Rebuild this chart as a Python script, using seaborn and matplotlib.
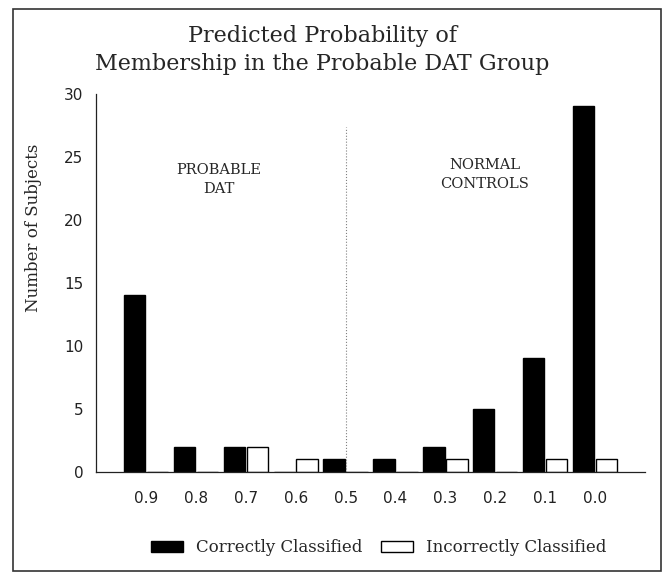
import pandas as pd
import seaborn as sns
import matplotlib.pyplot as plt
from matplotlib.patches import Patch, Rectangle

# values
probs = ["0.9", "0.8", "0.7", "0.6", "0.5", "0.4", "0.3", "0.2", "0.1", "0.0"]
correct = [14, 2, 2, 0, 1, 1, 2, 5, 9, 29]
incorrect = [0, 0, 2, 1, 0, 0, 1, 0, 1, 1]
groups = ["Correctly Classified", "Incorrectly Classified"]

df = pd.DataFrame({
    "prob": probs * 2,
    "count": correct + incorrect,
    "group": [groups[0]] * len(probs) + [groups[1]] * len(probs),
})

sns.set_style("white")
plt.rcParams["font.family"] = ["DejaVu Serif"]

fig = plt.figure(figsize=(6.67, 5.72), dpi=100)
ax = fig.add_axes([0.144, 0.175, 0.823, 0.661])

sns.barplot(data=df, x="prob", y="count", hue="group", order=probs,
            hue_order=groups, palette={groups[0]: "black", groups[1]: "white"},
            edgecolor="black", linewidth=1, width=0.92, gap=0.07,
            legend=False, ax=ax)

ax.set_xlim(-1, 10)
ax.set_ylim(0, 30)
ax.set_yticks(range(0, 31, 5))
ax.set_xticks(range(len(probs)))
ax.set_xticklabels(probs, fontfamily="DejaVu Sans", fontsize=11)
ax.set_xticks([-1, 10], minor=True)
for lab in ax.get_yticklabels():
    lab.set_fontfamily("DejaVu Sans")
    lab.set_fontsize(11)
ax.tick_params(axis="y", direction="in", length=6, width=0.8, pad=9, colors="#222222")
ax.tick_params(axis="x", which="both", direction="out", length=4, width=0.8, pad=10,
               colors="#222222")
ax.set_xlabel("")
ax.set_ylabel("Number of Subjects", fontsize=12)
ax.yaxis.set_label_coords(-0.098, 0.645)
for side in ["top", "right"]:
    ax.spines[side].set_visible(False)
for side in ["left", "bottom"]:
    ax.spines[side].set_color("#222222")
    ax.spines[side].set_linewidth(0.9)

ax.axvline(4, ymin=0, ymax=0.913, color="gray", linestyle=":", linewidth=0.8)
ax.text(1.46, 23.2, "PROBABLE\nDAT", ha="center", va="center", fontsize=10.5,
        linespacing=1.4)
ax.text(6.79, 23.6, "NORMAL\nCONTROLS", ha="center", va="center", fontsize=10.5,
        linespacing=1.4)

fig.text(0.483, 0.913, "Predicted Probability of\nMembership in the Probable DAT Group",
         ha="center", va="center", fontsize=16, linespacing=1.35)

handles = [Patch(facecolor="black", edgecolor="black"),
           Patch(facecolor="white", edgecolor="black")]
fig.legend(handles, groups, loc="center", bbox_to_anchor=(0.568, 0.042), ncol=2,
           frameon=False, fontsize=12, handlelength=1.9, handleheight=0.7,
           handletextpad=0.8, columnspacing=1.15)

fig.patches.append(Rectangle((0.0195, 0.002), 0.971, 0.983, transform=fig.transFigure,
                             fill=False, edgecolor="#333333", linewidth=1.2))

fig.savefig("out.png", dpi=100, facecolor="white")
